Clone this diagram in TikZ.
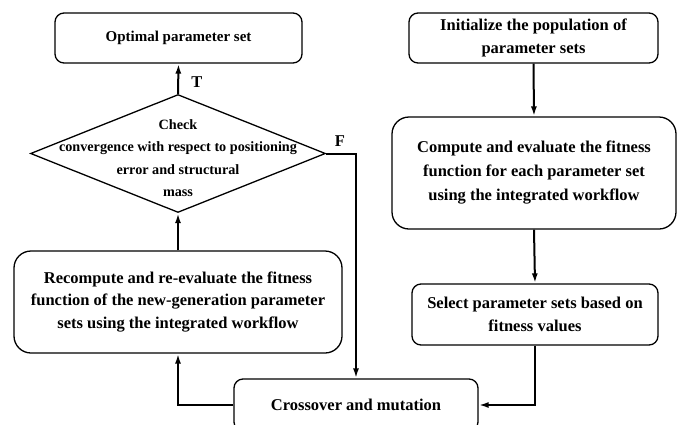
\documentclass[tikz,border=0pt]{standalone}
\usepackage{fontspec}
\setmainfont{Liberation Serif}
\usetikzlibrary{shapes.geometric,arrows.meta}
\begin{document}
\begin{tikzpicture}[x=1pt,y=1pt,
  box/.style={draw,line width=1.3pt,rounded corners=9pt,align=center,inner sep=0pt,
    font=\fontsize{16.5}{22.5}\selectfont\bfseries},
  bigbox/.style={box,rounded corners=17pt},
  arr/.style={line width=2pt,-{Latex[length=10pt,width=6pt]}},
  lbl/.style={font=\fontsize{16.5}{20}\selectfont\bfseries,inner sep=0pt}]
\useasboundingbox (0,0) rectangle (683,-424);
\node[box,minimum width=247,minimum height=50,font=\fontsize{15}{20}\selectfont\bfseries] (opt) at (178.5,-38) {Optimal parameter set};
\node[box,minimum width=249,minimum height=50] (init) at (533.5,-38) {Initialize the population of\\parameter sets};
\node[bigbox,minimum width=284,minimum height=112,font=\fontsize{16.5}{24}\selectfont\bfseries] (comp) at (534,-173) {Compute and evaluate the fitness\\function for each parameter set\\using the integrated workflow};
\node[box,minimum width=246,minimum height=61] (sel) at (535,-314.5) {Select parameter sets based on\\fitness values};
\node[box,minimum width=244,minimum height=52] (cross) at (356,-405) {Crossover and mutation};
\node[bigbox,minimum width=328,minimum height=102] (recomp) at (178,-302) {Recompute and re-evaluate the fitness\\function of the new-generation parameter\\sets using the integrated workflow};
\node[draw,diamond,line width=1.3pt,minimum width=295,minimum height=118,inner sep=0pt] (dia) at (178,-153.5) {};
\node[align=center,inner sep=0pt,font=\fontsize{14.2}{22.5}\selectfont\bfseries] (diat) at (178,-158) {Check\\convergence with respect to positioning\\error and structural\\mass};
\draw[arr] (init.south) -- (comp.north);
\draw[arr] (comp.south) -- (sel.north);
\draw[arr] (sel.south) |- (cross.east);
\draw[arr] (cross.west) -| (recomp.south);
\draw[arr] (recomp.north) -- (dia.south);
\draw[arr] (dia.north) -- (opt.south);
\draw[arr] (dia.east) -| (cross.north);
\node[lbl] (tl) at (197,-82) {T};
\node[lbl] (fl) at (340,-141) {F};
\end{tikzpicture}
\end{document}
